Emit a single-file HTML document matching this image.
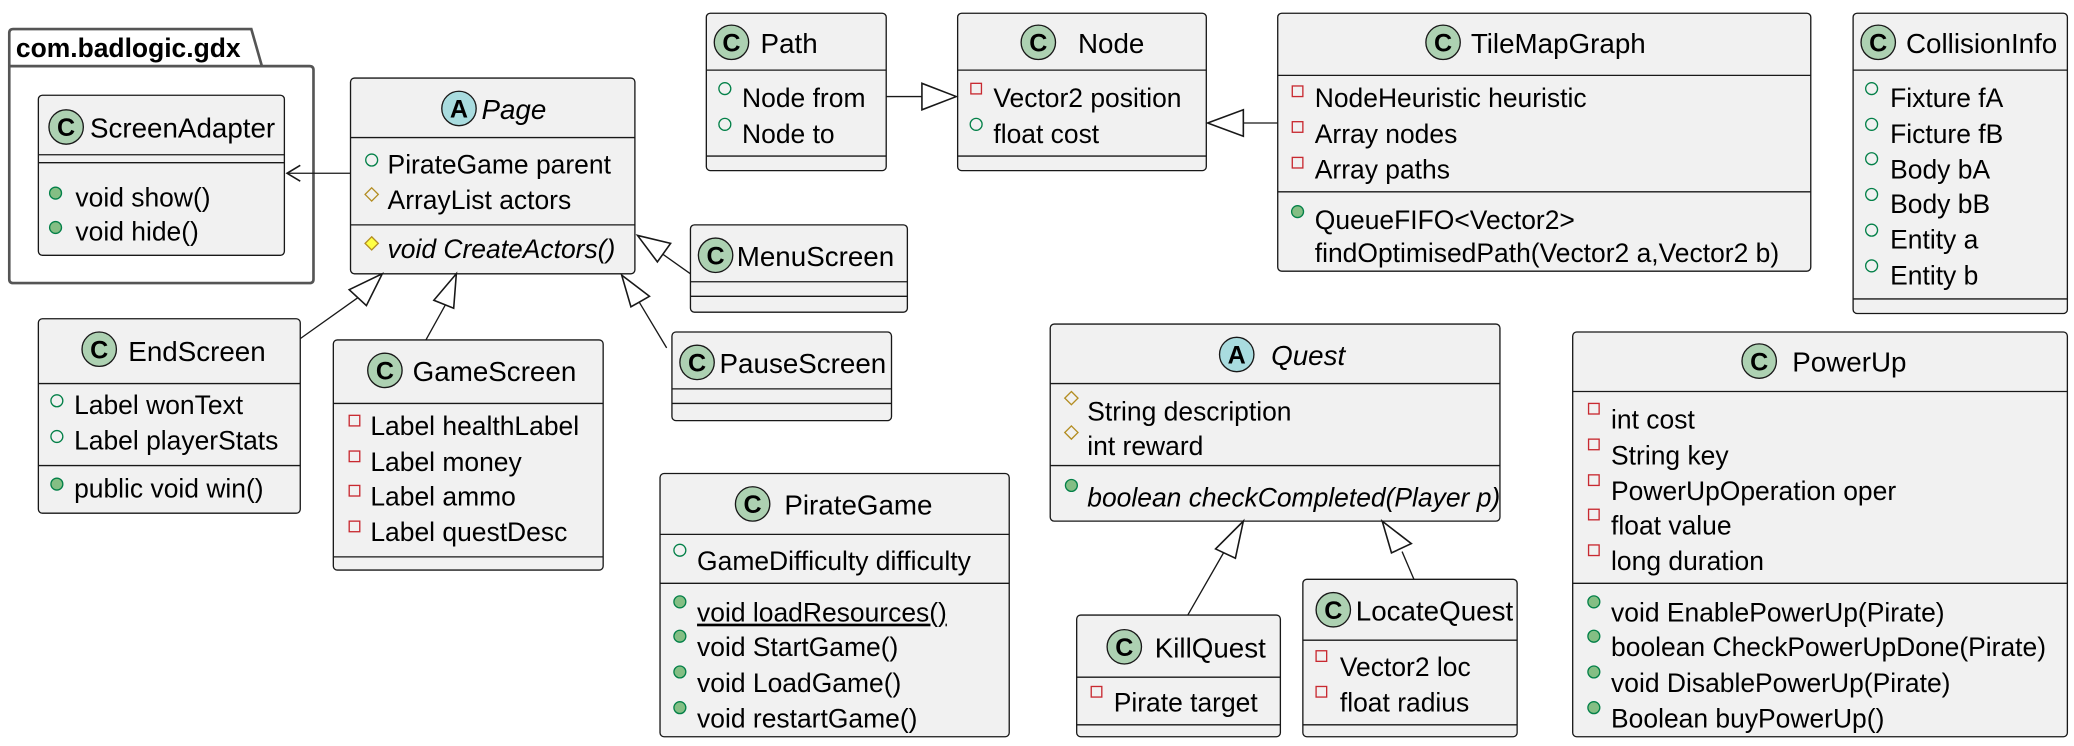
<!DOCTYPE html>
<html><head><meta charset="utf-8"><style>
html,body{margin:0;padding:0;background:#fff;}
svg{display:block}
text{font-family:"Liberation Sans",sans-serif;font-size:20px;fill:#000}
.b{fill:#f1f1f1;stroke:#181818;stroke-width:1}
.l{stroke:#181818;stroke-width:1}
.cc{fill:#add1b2;stroke:#181818;stroke-width:1}
.ca{fill:#a9dcdf;stroke:#181818;stroke-width:1}
.cl{font-weight:bold;font-size:19px;text-anchor:middle}
.pm{fill:#84be84;stroke:#038048;stroke-width:1}
.pf{fill:none;stroke:#038048;stroke-width:1}
.df{fill:none;stroke:#b38d22;stroke-width:1}
.dm{fill:#ffff44;stroke:#b38d22;stroke-width:1}
.sf{fill:none;stroke:#c82930;stroke-width:1}
.i{font-style:italic}
.n{font-size:21px}
.ar{fill:none;stroke:#181818;stroke-width:1.2}
.tri{fill:#fff;stroke:#181818;stroke-width:1.2}
</style></head><body>
<svg width="2074" height="746" viewBox="0 0 1568 564" xmlns="http://www.w3.org/2000/svg">
<path d="M7,50 L7,25 Q7,22 10,22 L190,22 L198,50 L234,50 Q237,50 237,53 L237,211 Q237,214 234,214 L10,214 Q7,214 7,211 Z" fill="#fff" stroke="#555" stroke-width="2"/>
<line x1="7" y1="50" x2="198" y2="50" stroke="#555" stroke-width="2"/>
<text x="12" y="43" style="font-weight:bold;font-size:20px">com.badlogic.gdx</text>

<rect class="b" x="29" y="72" width="186" height="121" rx="3"/>
<circle class="cc" cx="50" cy="96" r="13"/><text class="cl" x="50" y="103">C</text>
<text class="n" x="68" y="104">ScreenAdapter</text>
<line class="l" x1="29" y1="117" x2="215" y2="117"/><line class="l" x1="29" y1="123" x2="215" y2="123"/>
<circle class="pm" cx="42" cy="146" r="4.5"/><text x="57" y="156">void show()</text>
<circle class="pm" cx="42" cy="172" r="4.5"/><text x="57" y="182">void hide()</text>

<rect class="b" x="265" y="59" width="215" height="148" rx="3"/>
<circle class="ca" cx="347" cy="82" r="13"/><text class="cl" x="347" y="89">A</text>
<text class="n i" x="364" y="90">Page</text>
<line class="l" x1="265" y1="104" x2="480" y2="104"/>
<circle class="pf" cx="281" cy="121" r="4.5"/><text x="293" y="131">PirateGame parent</text>
<path class="df" d="M281,142 l5,5 l-5,5 l-5,-5 z"/><text x="293" y="158">ArrayList actors</text>
<line class="l" x1="265" y1="170" x2="480" y2="170"/>
<path class="dm" d="M281,179 l5,5 l-5,5 l-5,-5 z"/><text class="i" x="293" y="195">void CreateActors()</text>

<line class="l" x1="265" y1="131" x2="217" y2="131" stroke-width="1.2"/>
<path class="ar" d="M227,125 L217,131 L227,137"/>

<rect class="b" x="522" y="170" width="164" height="66" rx="3"/>
<circle class="cc" cx="541" cy="193" r="13"/><text class="cl" x="541" y="200">C</text>
<text class="n" x="557" y="201">MenuScreen</text>
<line class="l" x1="522" y1="213" x2="686" y2="213"/><line class="l" x1="522" y1="224" x2="686" y2="224"/>

<rect class="b" x="508" y="251" width="166" height="67" rx="3"/>
<circle class="cc" cx="527" cy="274" r="13"/><text class="cl" x="527" y="281">C</text>
<text class="n" x="544" y="282">PauseScreen</text>
<line class="l" x1="508" y1="294" x2="674" y2="294"/><line class="l" x1="508" y1="305" x2="674" y2="305"/>

<rect class="b" x="29" y="241" width="198" height="147" rx="3"/>
<circle class="cc" cx="75" cy="264" r="13"/><text class="cl" x="75" y="271">C</text>
<text class="n" x="97" y="273">EndScreen</text>
<line class="l" x1="29" y1="290" x2="227" y2="290"/>
<circle class="pf" cx="43" cy="303" r="4.5"/><text x="56" y="313">Label wonText</text>
<circle class="pf" cx="43" cy="330" r="4.5"/><text x="56" y="340">Label playerStats</text>
<line class="l" x1="29" y1="352" x2="227" y2="352"/>
<circle class="pm" cx="43" cy="366" r="4.5"/><text x="56" y="376">public void win()</text>

<rect class="b" x="252" y="257" width="204" height="174" rx="3"/>
<circle class="cc" cx="291" cy="280" r="13"/><text class="cl" x="291" y="287">C</text>
<text class="n" x="312" y="288">GameScreen</text>
<line class="l" x1="252" y1="305" x2="456" y2="305"/>
<rect class="sf" x="264" y="314" width="8" height="8"/><text x="280" y="329">Label healthLabel</text>
<rect class="sf" x="264" y="341" width="8" height="8"/><text x="280" y="356">Label money</text>
<rect class="sf" x="264" y="367" width="8" height="8"/><text x="280" y="382">Label ammo</text>
<rect class="sf" x="264" y="394" width="8" height="8"/><text x="280" y="409">Label questDesc</text>
<line class="l" x1="252" y1="421" x2="456" y2="421"/>

<line class="l" x1="227" y1="256" x2="272" y2="224" stroke-width="1.2"/>
<path class="tri" d="M289,207 L277,231 L264,219 Z"/>
<line class="l" x1="322" y1="257" x2="337" y2="230" stroke-width="1.2"/>
<path class="tri" d="M345,207 L343,233 L328,227 Z"/>
<line class="l" x1="522" y1="207" x2="498" y2="190" stroke-width="1.2"/>
<path class="tri" d="M482,178 L507,184 L497,198 Z"/>
<line class="l" x1="504" y1="263" x2="483" y2="228" stroke-width="1.2"/>
<path class="tri" d="M470,208 L491,224 L477,232 Z"/>

<rect class="b" x="534" y="10" width="136" height="119" rx="3"/>
<circle class="cc" cx="553" cy="32" r="13"/><text class="cl" x="553" y="39">C</text>
<text class="n" x="575" y="40">Path</text>
<line class="l" x1="534" y1="53" x2="670" y2="53"/>
<circle class="pf" cx="548" cy="67" r="4.5"/><text x="561" y="81">Node from</text>
<circle class="pf" cx="548" cy="94" r="4.5"/><text x="561" y="108">Node to</text>
<line class="l" x1="534" y1="118" x2="670" y2="118"/>

<rect class="b" x="724" y="10" width="188" height="119" rx="3"/>
<circle class="cc" cx="785" cy="32" r="13"/><text class="cl" x="785" y="39">C</text>
<text class="n" x="815" y="40">Node</text>
<line class="l" x1="724" y1="53" x2="912" y2="53"/>
<rect class="sf" x="734" y="63" width="8" height="8"/><text x="751" y="81">Vector2 position</text>
<circle class="pf" cx="738" cy="94" r="4.5"/><text x="751" y="108">float cost</text>
<line class="l" x1="724" y1="118" x2="912" y2="118"/>

<line class="l" x1="670" y1="73" x2="697" y2="73" stroke-width="1.2"/>
<path class="tri" d="M723,73 L697,63 L697,83 Z"/>

<rect class="b" x="966" y="10" width="403" height="195" rx="3"/>
<circle class="cc" cx="1091" cy="32" r="13"/><text class="cl" x="1091" y="39">C</text>
<text class="n" x="1112" y="40">TileMapGraph</text>
<line class="l" x1="966" y1="57" x2="1369" y2="57"/>
<rect class="sf" x="977" y="65" width="8" height="8"/><text x="994" y="81">NodeHeuristic heuristic</text>
<rect class="sf" x="977" y="92" width="8" height="8"/><text x="994" y="108">Array nodes</text>
<rect class="sf" x="977" y="119" width="8" height="8"/><text x="994" y="135">Array paths</text>
<line class="l" x1="966" y1="145" x2="1369" y2="145"/>
<circle class="pm" cx="981" cy="160" r="4.5"/><text x="994" y="173">QueueFIFO&lt;Vector2&gt;</text>
<text x="994" y="198">findOptimisedPath(Vector2 a,Vector2 b)</text>

<line class="l" x1="966" y1="93" x2="940" y2="93" stroke-width="1.2"/>
<path class="tri" d="M913,93 L940,83 L940,103 Z"/>

<rect class="b" x="1401" y="10" width="162" height="227" rx="3"/>
<circle class="cc" cx="1420" cy="32" r="13"/><text class="cl" x="1420" y="39">C</text>
<text class="n" x="1441" y="40">CollisionInfo</text>
<line class="l" x1="1401" y1="53" x2="1563" y2="53"/>
<circle class="pf" cx="1415" cy="67" r="4.5"/><text x="1429" y="81">Fixture fA</text>
<circle class="pf" cx="1415" cy="94" r="4.5"/><text x="1429" y="108">Ficture fB</text>
<circle class="pf" cx="1415" cy="120" r="4.5"/><text x="1429" y="135">Body bA</text>
<circle class="pf" cx="1415" cy="147" r="4.5"/><text x="1429" y="161">Body bB</text>
<circle class="pf" cx="1415" cy="174" r="4.5"/><text x="1429" y="188">Entity a</text>
<circle class="pf" cx="1415" cy="201" r="4.5"/><text x="1429" y="215">Entity b</text>
<line class="l" x1="1401" y1="226" x2="1563" y2="226"/>

<rect class="b" x="794" y="245" width="340" height="149" rx="3"/>
<circle class="ca" cx="935" cy="268" r="13"/><text class="cl" x="935" y="275">A</text>
<text class="n i" x="961" y="276">Quest</text>
<line class="l" x1="794" y1="290" x2="1134" y2="290"/>
<path class="df" d="M810,296 l5,5 l-5,5 l-5,-5 z"/><text x="822" y="318">String description</text>
<path class="df" d="M810,322 l5,5 l-5,5 l-5,-5 z"/><text x="822" y="344">int reward</text>
<line class="l" x1="794" y1="352" x2="1134" y2="352"/>
<circle class="pm" cx="810" cy="367" r="4.5"/><text class="i" x="822" y="383">boolean checkCompleted(Player p)</text>

<rect class="b" x="814" y="465" width="154" height="92" rx="3"/>
<circle class="cc" cx="850" cy="489" r="13"/><text class="cl" x="850" y="496">C</text>
<text class="n" x="873" y="497">KillQuest</text>
<line class="l" x1="814" y1="512" x2="968" y2="512"/>
<rect class="sf" x="825" y="519" width="8" height="8"/><text x="842" y="538">Pirate target</text>
<line class="l" x1="814" y1="548" x2="968" y2="548"/>

<rect class="b" x="985" y="438" width="162" height="119" rx="3"/>
<circle class="cc" cx="1008" cy="461" r="13"/><text class="cl" x="1008" y="468">C</text>
<text class="n" x="1025" y="469">LocateQuest</text>
<line class="l" x1="985" y1="484" x2="1147" y2="484"/>
<rect class="sf" x="995" y="492" width="8" height="8"/><text x="1013" y="511">Vector2 loc</text>
<rect class="sf" x="995" y="519" width="8" height="8"/><text x="1013" y="538">float radius</text>
<line class="l" x1="985" y1="548" x2="1147" y2="548"/>

<line class="l" x1="898" y1="465" x2="925" y2="418" stroke-width="1.2"/>
<path class="tri" d="M940,394 L934,422 L919,415 Z"/>
<line class="l" x1="1069" y1="438" x2="1060" y2="417" stroke-width="1.2"/>
<path class="tri" d="M1045,394 L1067,411 L1052,418 Z"/>

<rect class="b" x="1189" y="251" width="374" height="306" rx="3"/>
<circle class="cc" cx="1330" cy="273" r="13"/><text class="cl" x="1330" y="280">C</text>
<text class="n" x="1355" y="281">PowerUp</text>
<line class="l" x1="1189" y1="296" x2="1563" y2="296"/>
<rect class="sf" x="1201" y="305" width="8" height="8"/><text x="1218" y="324">int cost</text>
<rect class="sf" x="1201" y="332" width="8" height="8"/><text x="1218" y="351">String key</text>
<rect class="sf" x="1201" y="359" width="8" height="8"/><text x="1218" y="378">PowerUpOperation oper</text>
<rect class="sf" x="1201" y="385" width="8" height="8"/><text x="1218" y="404">float value</text>
<rect class="sf" x="1201" y="412" width="8" height="8"/><text x="1218" y="431">long duration</text>
<line class="l" x1="1189" y1="441" x2="1563" y2="441"/>
<circle class="pm" cx="1205" cy="455" r="4.5"/><text x="1218" y="470">void EnablePowerUp(Pirate)</text>
<circle class="pm" cx="1205" cy="481" r="4.5"/><text x="1218" y="496">boolean CheckPowerUpDone(Pirate)</text>
<circle class="pm" cx="1205" cy="508" r="4.5"/><text x="1218" y="523">void DisablePowerUp(Pirate)</text>
<circle class="pm" cx="1205" cy="535" r="4.5"/><text x="1218" y="550">Boolean buyPowerUp()</text>

<rect class="b" x="499" y="358" width="264" height="199" rx="3"/>
<circle class="cc" cx="569" cy="381" r="13"/><text class="cl" x="569" y="388">C</text>
<text class="n" x="593" y="389">PirateGame</text>
<line class="l" x1="499" y1="404" x2="763" y2="404"/>
<circle class="pf" cx="514" cy="416" r="4.5"/><text x="527" y="431">GameDifficulty difficulty</text>
<line class="l" x1="499" y1="441" x2="763" y2="441"/>
<circle class="pm" cx="514" cy="455" r="4.5"/><text x="527" y="470" text-decoration="underline">void loadResources()</text>
<circle class="pm" cx="514" cy="481" r="4.5"/><text x="527" y="496">void StartGame()</text>
<circle class="pm" cx="514" cy="508" r="4.5"/><text x="527" y="523">void LoadGame()</text>
<circle class="pm" cx="514" cy="535" r="4.5"/><text x="527" y="550">void restartGame()</text>
</svg>
</body></html>
